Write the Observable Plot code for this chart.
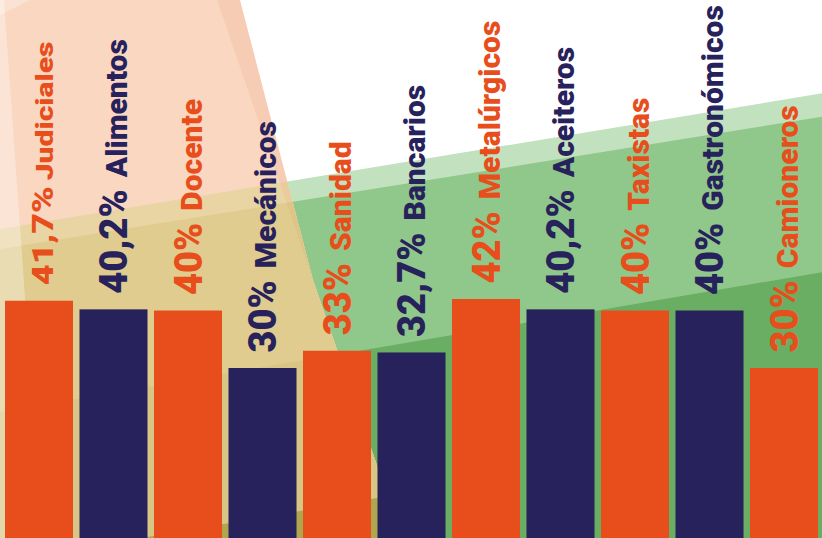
<!DOCTYPE html>
<html>
<head>
<meta charset="utf-8">
<script src="https://cdn.jsdelivr.net/npm/d3@7"></script>
<script src="https://cdn.jsdelivr.net/npm/@observablehq/plot@0.6"></script>
<style>
  html, body { margin: 0; padding: 0; background: #ffffff; overflow: hidden; }
  #chart { width: 822px; height: 538px; }
  #chart svg { display: block; }
</style>
</head>
<body>
<div id="chart"></div>
<script>
// ---- data ----
const categories = ["Judiciales", "Alimentos", "Docente", "Mecánicos", "Sanidad", "Bancarios",
                    "Metalúrgicos", "Aceiteros", "Taxistas", "Gastronómicos", "Camioneros"];
const values = [41.7, 40.2, 40, 30, 33, 32.7, 42, 40.2, 40, 40, 30];

// ---- styles ----
const ORANGE = "#E84E1B";
const NAVY = "#27225C";
const W = 822, H = 538;
const FONT = "Roboto, 'DejaVu Sans', sans-serif";
const nameSize = 30, numberSize = 38, nameGap = 12;
const compressedLabels = ["Judiciales"]; // set in a narrower type in the original

const data = categories.map((name, i) => ({name, value: values[i]}));
const pct = v => String(v).replace(".", ",") + "%";
const colorOf = (d, i) => (i % 2 === 0 ? ORANGE : NAVY);

// decorative background (translucent geometric shapes)
function background(index, scales, values, dimensions) {
  const w = dimensions.width, h = dimensions.height;
  const g = d3.create("svg:g");
  const band = (a, b) => [[0, a], [w, a + b * w], [w, h], [0, h]];
  const poly = (sel, pts, fill, op = 1) =>
    sel.append("polygon").attr("points", pts.map(p => p.join(",")).join(" "))
      .attr("fill", fill).attr("fill-opacity", op);
  const LA = [229, -0.165], LB = [249, -0.161], LC = [412, -0.17], LD = [562, -0.17];
  g.append("rect").attr("width", w).attr("height", h).attr("fill", "#ffffff");
  poly(g, band(...LA), "#C2E1BF");
  poly(g, band(...LB), "#90C78A");
  poly(g, band(...LC), "#6AAE63");
  const peachPts = [[0, 0], [240, 0], [313, 280], [402, h], [0, h]];
  const defs = g.append("defs");
  defs.append("clipPath").attr("id", "bg-peach-clip")
    .append("polygon").attr("points", peachPts.map(p => p.join(",")).join(" "));
  const pg = g.append("g").attr("clip-path", "url(#bg-peach-clip)");
  pg.append("rect").attr("width", w).attr("height", h).attr("fill", "#F9D7C1");
  poly(pg, band(...LA), "#E9D5A4");
  poly(pg, band(...LB), "#DFCC8E");
  poly(pg, band(...LC), "#D8C684");
  poly(pg, band(...LD), "#AFA64E");
  poly(pg, [[217, 0], [240, 0], [313, 280]], "#E8885A", 0.12);
  poly(pg, [[0, 0], [4, 0], [42, h], [0, h]], "#ffffff", 0.32);
  poly(pg, [[0, 0], [30, 0], [0, 15]], "#ffffff", 0.3);
  return g.node();
}

const svg = Plot.plot({
  width: W,
  height: H,
  margin: 0,
  style: {background: "transparent", fontFamily: FONT},
  x: {domain: categories, range: [1.75, 821.25], paddingInner: 0.087, paddingOuter: 0.0435, round: false, axis: null},
  y: {domain: [0, d3.max(values)], range: [540.5, 299], axis: null},
  marks: [
    background,
    Plot.barY(data, {x: "name", y: "value", fill: colorOf}),
    Plot.text(data, {
      x: "name",
      y: "value",
      text: d => `${pct(d.value)} ${d.name}`,
      fill: colorOf,
      rotate: -90,
      textAnchor: "start",
      lineAnchor: "bottom",
      fontSize: nameSize,
      fontWeight: 900,
      fontFamily: FONT,
      dx: 13,
      dy: -16
    })
  ]
});

document.getElementById("chart").append(svg);

// split each label into a larger number and a smaller name
d3.select(svg).selectAll('g[aria-label="text"] text').each(function () {
  const full = this.textContent;
  const k = full.indexOf(" ");
  if (k < 0) return;
  const num = full.slice(0, k), name = full.slice(k + 1);
  const compressed = compressedLabels.includes(name);
  this.textContent = "";
  const sel = d3.select(this);
  sel.append("tspan").attr("font-size", compressed ? 36 : numberSize).text(num);
  sel.append("tspan").attr("font-size", nameSize).attr("dx", compressed ? 6 : nameGap).text(name);
  if (compressed) sel.attr("transform", sel.attr("transform") + " scale(1, 0.8)");
});
</script>
</body>
</html>
